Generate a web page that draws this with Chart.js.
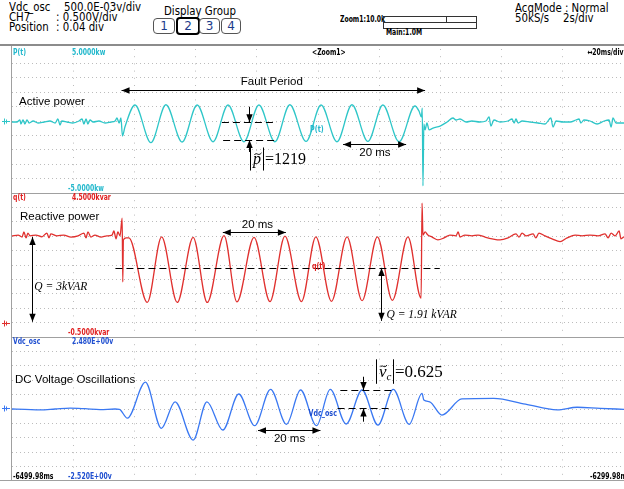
<!DOCTYPE html>
<html>
<head>
<meta charset="utf-8">
<script src="https://cdn.jsdelivr.net/npm/chart.js@4.4.1/dist/chart.umd.min.js"></script>
<style>
body{margin:0;width:624px;height:489px;overflow:hidden;background:#fff;position:relative;font-family:'Liberation Sans Narrow','DejaVu Sans',Arial,sans-serif}
.t{position:absolute;font-size:12px;line-height:12px;white-space:nowrap;color:#000;transform:scaleX(0.85);transform-origin:left center}
.s{position:absolute;font-size:8.5px;line-height:9px;white-space:nowrap;font-weight:bold;transform:scaleX(0.72);transform-origin:left center}
.btn{position:absolute;top:18px;height:14px;border:1px solid #555;border-radius:4px;font-size:12px;line-height:14px;text-align:center;color:#1c3c8c}
.hl{position:absolute;background:#a0a0a0}
canvas{position:absolute;left:0}
</style>
</head>
<body>
<!-- header -->
<div class="t" style="left:9px;top:1px">Vdc_osc</div>
<div class="t" style="left:64px;top:1px">500.0E-03v/div</div>
<div class="t" style="left:9px;top:11px">CH7</div>
<div class="t" style="left:56px;top:11px">: 0.500V/div</div>
<div class="t" style="left:9px;top:21px">Position</div>
<div class="t" style="left:56px;top:21px">: 0.04 div</div>
<div class="t" style="left:164px;top:5px">Display Group</div>
<div class="btn" style="left:153px;width:20px">1</div>
<div class="btn" style="left:176px;width:20px;border:2px solid #000;top:17px">2</div>
<div class="btn" style="left:199px;width:19px">3</div>
<div class="btn" style="left:221px;width:18px">4</div>
<div class="s" style="left:340px;top:15px;color:#000">Zoom1:10.0k</div>
<div style="position:absolute;left:383px;top:16px;width:92px;height:11px;border:1px solid #333"></div>
<div style="position:absolute;left:384px;top:22px;width:92px;height:1px;background:#333"></div>
<div style="position:absolute;left:446px;top:17px;width:1px;height:5px;background:#333"></div>
<div class="s" style="left:386px;top:28px;color:#000">Main:1.0M</div>
<div class="t" style="left:515px;top:2px">AcqMode : Normal</div>
<div class="t" style="left:515px;top:12px">50kS/s</div>
<div class="t" style="left:563px;top:12px">2s/div</div>

<canvas id="pChart" width="624" height="144" style="top:49px"></canvas>
<canvas id="qChart" width="624" height="144" style="top:193px"></canvas>
<canvas id="vChart" width="624" height="144" style="top:337px"></canvas>

<div class="hl" style="left:0;top:44px;width:624px;height:2px;background:#8c8c8c"></div>
<div class="hl" style="left:11px;top:46px;width:1px;height:435px"></div>
<div class="hl" style="left:12px;top:193px;width:612px;height:1px"></div>
<div class="hl" style="left:12px;top:337px;width:612px;height:1px"></div>
<div class="hl" style="left:0;top:480px;width:624px;height:1px"></div>

<!-- channel labels -->
<div class="s" style="left:13px;top:48px;color:#22b8cc">P(t)</div>
<div class="s" style="left:72px;top:48px;color:#22b8cc">5.0000kw</div>
<div class="s" style="left:312px;top:48px;color:#000">&lt;Zoom1&gt;</div>
<div class="s" style="right:0;top:48px;color:#000;transform-origin:right center">&#8596;20ms/div</div>
<div class="s" style="left:68px;top:184px;color:#22b8cc">-5.0000kw</div>
<div class="s" style="left:13px;top:193px;color:#e02020">q(t)</div>
<div class="s" style="left:72px;top:193px;color:#e02020">4.5000kvar</div>
<div class="s" style="left:68px;top:328px;color:#e02020">-0.5000kvar</div>
<div class="s" style="left:13px;top:337px;color:#1f4fd0">Vdc_osc</div>
<div class="s" style="left:72px;top:337px;color:#1f4fd0">2.480E+00v</div>
<div class="s" style="left:13px;top:472px;color:#000">-6499.98ms</div>
<div class="s" style="left:68px;top:472px;color:#1f4fd0">-2.520E+00v</div>
<div class="s" style="left:590px;top:472px;color:#000">-6299.98ms</div>

<script>
// time in ms from the left edge of the zoom window (-6499.98 ms)
const tMin = 0, tMax = 200;

// active power P(t), kW
const pTime = [0, 1.6, 2.6, 2.9, 3.6, 4.2, 4.9, 5.6, 6.9, 8.5, 10.5, 12.4, 14.1, 15.0, 15.7, 16.3, 18.0, 19.9, 21.9, 22.9,
  23.5, 24.2, 24.8, 25.5, 26.5, 28.4, 30.4, 32.4, 33.7, 34.3, 35.0, 35.6, 36.1, 36.9,
  40.2, 45.4, 50.3, 55.6, 60.5, 65.7, 70.6, 75.8, 80.7, 85.9, 90.8, 96.1, 101.0, 106.2, 111.1, 116.3, 121.2, 126.5, 131.7,
  133.0, 133.8, 134.07, 134.3, 134.6, 135.0, 135.6, 136.3, 137.6, 139.9, 142.2, 144.1, 145.1, 146.4, 148.4, 150.3,
  152.9, 154.9, 155.9, 156.5, 157.5, 159.5, 162.1, 163.4, 164.1, 164.7, 165.4, 166.7, 169.3, 171.9, 174.2, 176.1,
  176.8, 177.8, 180.1, 182.4, 184.3, 185.3, 185.9, 186.9, 188.9, 191.2, 193.5, 195.1, 195.8, 196.4, 197.4, 198.7, 200];
const pValue = [-0.07, -0.07, 0.07, -0.21, 0.07, -0.21, 0.07, -0.14, 0, -0.14, -0.07, 0, -0.14, 0.14, -0.28, 0, -0.07, -0.14, 0, 0.14,
  -0.21, 0.14, -0.21, 0.07, -0.07, 0, -0.14, -0.07, 0, 0.21, -0.14, 0.21, -1.04, -0.42,
  1.11, -1.50, 1.13, -1.46, 1.11, -1.44, 1.11, -1.44, 1.11, -1.44, 1.13, -1.42, 1.11, -1.44, 1.13, -1.42, 1.11, -1.44, 1.04,
  0.69, 0.28, 0.90, -4.51, -0.21, -0.62, -0.14, -0.62, -0.49, -0.35, -0.07, 0.21, 0.07, 0.14, -0.07, 0,
  -0.07, 0, 0.28, -0.35, 0.07, -0.07, 0, 0.14, -0.14, 0.14, -0.14, 0, -0.07, -0.14, -0.21, 0.21,
  -0.42, 0, -0.07, -0.07, 0.07, 0.14, -0.14, 0.07, 0, -0.21, 0, 0.07, -0.42, 0.21, -0.14, -0.14, -0.14];

// reactive power q(t), kvar
const qTime = [0, 2.0, 3.3, 3.9, 4.6, 5.2, 5.9, 7.8, 9.8, 11.4, 12.1, 12.7, 14.7, 16.9, 19.3, 21.6, 23.5, 24.2, 24.8, 25.8,
  27.1, 29.1, 31.0, 32.7, 33.3, 34.0, 34.6, 35.3, 36.0, 36.2, 36.4, 37.3, 38.2,
  44.2, 48.9, 54.0, 59.2, 63.8, 69.3, 73.5, 79.1, 84.3, 89.2, 94.6, 99.3, 104.4, 109.5, 114.4, 119.4, 124.3, 129.4,
  133.7, 134.0, 134.3, 135.0, 135.9, 137.3, 139.2, 141.2, 143.1, 145.1, 145.8, 146.4, 148.0, 150.3, 152.3, 154.6,
  156.9, 159.5, 162.1, 164.7, 165.7, 166.7, 168.0, 170.3, 171.2, 172.2, 174.2, 176.5, 179.1, 181.4, 184.0, 186.3,
  188.9, 191.5, 193.8, 194.8, 195.8, 197.1, 198.4, 199.0, 200];
const qValue = [3.01, 3.04, 2.97, 3.15, 2.94, 3.11, 3.01, 3.04, 2.98, 3.11, 2.94, 3.08, 3.01, 3.04, 2.97, 3.01, 3.11, 2.94, 3.15, 2.97,
  3.04, 2.97, 3.01, 3.04, 3.18, 2.91, 3.15, 3.01, 3.63, 1.41, 2.87, 2.94, 2.94,
  0.70, 2.98, 0.70, 2.96, 0.70, 3.02, 0.72, 2.96, 0.73, 3.00, 0.73, 2.98, 0.74, 2.98, 0.76, 2.98, 0.77, 2.98,
  0.85, 4.15, 3.04, 3.15, 3.04, 2.97, 2.87, 2.94, 3.04, 3.01, 3.15, 2.97, 3.04, 3.01, 3.04, 2.97,
  2.91, 2.87, 2.94, 3.08, 2.97, 3.11, 3.01, 3.08, 2.94, 3.11, 3.01, 2.91, 2.81, 2.94, 3.04, 3.01,
  3.04, 3.01, 3.08, 2.94, 3.11, 3.01, 3.18, 2.91, 2.98];

// DC voltage oscillation Vdc_osc, V
const vTime = [0, 4.2, 9.2, 14.1, 19.0, 23.9, 28.8, 33.7, 35.1, 37.7, 43.6, 48.8, 53.3, 59.2, 63.7, 68.9, 74.1, 79.3, 84.5,
  89.7, 94.3, 99.5, 104.0, 109.2, 114.4, 119.6, 124.6, 129.8, 134.0, 134.6, 136.5, 140.5, 147.0, 157.4, 167.8,
  178.2, 184.7, 192.2, 200];
const vValue = [-0.02, -0.03, -0.05, -0.02, 0.01, -0.01, -0.04, -0.02, -0.03, -0.34, 0.91, -0.69, 0.23, -1.10, 0.23, -0.75, 0.50, -0.60, 0.66,
  -0.55, 0.64, -0.60, 0.66, -0.54, 0.64, -0.58, 0.66, -0.55, 0.52, 0.29, 0.23, -0.23, 0.33, 0.35, 0.15,
  -0.05, 0.04, 0.00, -0.03];

const sans = '11.5px "Liberation Sans", Arial, sans-serif';
const serifI = 'italic 11.5px "Liberation Serif", "Times New Roman", serif';

const pNotes = [
  {type: 'text', x: 2.3, y: 1.34, text: 'Active power', align: 'left'},
  {type: 'arrow', x1: 35.8, y1: 2.15, x2: 135, y2: 2.15, both: true},
  {type: 'text', x: 84.9, y: 2.73, text: 'Fault Period', align: 'center'},
  {type: 'dash', x1: 68.6, x2: 86.6, y: -0.09},
  {type: 'dash', x1: 69.0, x2: 86.9, y: -1.32},
  {type: 'arrow', x1: 77.5, y1: 0.99, x2: 77.5, y2: -0.09},
  {type: 'arrow', x1: 77.5, y1: -2.15, x2: 77.5, y2: -1.32},
  {type: 'abs', x: 77.9, y: -2.64, sym: 'p', sub: '', rest: '=1219', size: 16},
  {type: 'arrow', x1: 108.2, y1: -1.62, x2: 128.8, y2: -1.62, both: true},
  {type: 'text', x: 118.6, y: -2.24, text: '20 ms', align: 'center'},
  {type: 'tag', x: 97.4, y: -0.63, text: 'P(t)', color: '#22b8cc'}
];
const qNotes = [
  {type: 'text', x: 2.6, y: 3.68, text: 'Reactive power', align: 'left'},
  {type: 'arrow', x1: 6.5, y1: 2.97, x2: 6.5, y2: 0.03, both: true},
  {type: 'text', x: 7.3, y: 1.25, text: 'Q = 3kVAR', align: 'left', font: serifI},
  {type: 'dash', x1: 33.8, x2: 139.8, y: 1.896},
  {type: 'arrow', x1: 120.6, y1: 1.9, x2: 120.6, y2: 0.06, both: true},
  {type: 'text', x: 122.4, y: 0.26, text: 'Q = 1.91 kVAR', align: 'left', font: serifI},
  {type: 'arrow', x1: 68.9, y1: 3.135, x2: 89.5, y2: 3.135, both: true},
  {type: 'text', x: 80.2, y: 3.39, text: '20 ms', align: 'center'},
  {type: 'tag', x: 98.0, y: 1.94, text: 'q(t)', color: '#e02020'}
];
const vNotes = [
  {type: 'text', x: 1.0, y: 1.01, text: 'DC Voltage Oscillations', align: 'left'},
  {type: 'dash', x1: 107.3, x2: 124.8, y: 0.64},
  {type: 'dash', x1: 106.4, x2: 124.2, y: 0.0},
  {type: 'arrow', x1: 114.7, y1: 1.10, x2: 114.7, y2: 0.64},
  {type: 'arrow', x1: 114.7, y1: -0.46, x2: 114.7, y2: 0.0},
  {type: 'abs', x: 119.0, y: 1.28, sym: 'v', sub: 'c', rest: '=0.625', size: 17},
  {type: 'arrow', x1: 80.4, y1: -0.75, x2: 100.8, y2: -0.75, both: true},
  {type: 'text', x: 90.7, y: -1.04, text: '20 ms', align: 'center'},
  {type: 'tag', x: 96.9, y: -0.19, text: 'Vdc_osc', color: '#1f4fd0'}
];

const snap = v => Math.round(v) + 0.5;

function head(ctx, x1, y1, x2, y2) {
  const a = Math.atan2(y2 - y1, x2 - x1);
  ctx.beginPath();
  ctx.moveTo(x2, y2);
  ctx.lineTo(x2 - 8 * Math.cos(a) + 3.2 * Math.sin(a), y2 - 8 * Math.sin(a) - 3.2 * Math.cos(a));
  ctx.lineTo(x2 - 8 * Math.cos(a) - 3.2 * Math.sin(a), y2 - 8 * Math.sin(a) + 3.2 * Math.cos(a));
  ctx.closePath();
  ctx.fill();
}

function line(ctx, x1, y1, x2, y2) {
  ctx.beginPath();
  ctx.moveTo(x1, y1);
  ctx.lineTo(x2, y2);
  ctx.stroke();
}

function notesPlugin(notes, markColor) {
  return {
    id: 'notes',
    afterDatasetsDraw(chart) {
      const {ctx} = chart;
      const sx = chart.scales.x, sy = chart.scales.y;
      const px = v => sx.getPixelForValue(v), py = v => sy.getPixelForValue(v);
      ctx.save();
      ctx.fillStyle = '#000';
      ctx.strokeStyle = '#000';
      ctx.lineWidth = 1;
      notes.forEach(n => {
        if (n.type === 'text') {
          ctx.font = n.font || sans;
          ctx.textAlign = n.align;
          ctx.textBaseline = 'middle';
          ctx.fillText(n.text, px(n.x), py(n.y));
        } else if (n.type === 'tag') {
          // small condensed scope label
          ctx.save();
          ctx.font = 'bold 8.5px "Liberation Sans Narrow", "DejaVu Sans", Arial, sans-serif';
          ctx.fillStyle = n.color;
          ctx.textAlign = 'left';
          ctx.textBaseline = 'middle';
          ctx.translate(px(n.x), py(n.y));
          ctx.scale(0.75, 1);
          ctx.fillText(n.text, 0, 0);
          ctx.restore();
        } else if (n.type === 'dash') {
          ctx.setLineDash([7, 4]);
          const y = snap(py(n.y));
          line(ctx, px(n.x1), y, px(n.x2), y);
          ctx.setLineDash([]);
        } else if (n.type === 'arrow') {
          let x1 = px(n.x1), y1 = py(n.y1), x2 = px(n.x2), y2 = py(n.y2);
          if (x1 === x2) { x1 = x2 = snap(x1); } else { y1 = y2 = snap(y1); }
          line(ctx, x1, y1, x2, y2);
          head(ctx, x1, y1, x2, y2);
          if (n.both) head(ctx, x2, y2, x1, y1);
        } else if (n.type === 'abs') {
          const ax = snap(px(n.x)), ay = py(n.y), s = n.size;
          const h = s * 0.72, base = ay + s * 0.3;
          line(ctx, ax, ay - h, ax, ay + h);
          ctx.textAlign = 'left';
          ctx.textBaseline = 'alphabetic';
          ctx.font = `italic ${s}px "Liberation Serif", serif`;
          let cx = ax + 2.5;
          ctx.fillText(n.sym, cx, base);
          const w = ctx.measureText(n.sym).width;
          // tilde over the symbol
          const tx = cx + 1.5, ty = base - s * 0.62, tw = w - 1;
          ctx.beginPath();
          ctx.moveTo(tx, ty + 1);
          ctx.bezierCurveTo(tx + tw * 0.3, ty - 2.5, tx + tw * 0.5, ty + 3, tx + tw, ty - 1);
          ctx.stroke();
          cx += w;
          if (n.sub) {
            ctx.font = `italic ${s * 0.65}px "Liberation Serif", serif`;
            ctx.fillText(n.sub, cx, base + s * 0.22);
            cx += ctx.measureText(n.sub).width;
          }
          cx = snap(cx + 2);
          line(ctx, cx, ay - h, cx, ay + h);
          ctx.font = `${s}px "Liberation Serif", serif`;
          ctx.fillText(n.rest, cx + 1.5, base);
        }
      });
      // channel ground marker at the left edge
      const gy = snap(py(0));
      ctx.strokeStyle = markColor;
      line(ctx, 2, gy, 10, gy);
      line(ctx, 4.5, gy - 3, 4.5, gy + 3);
      line(ctx, 6.5, gy - 2, 6.5, gy + 2);
      ctx.restore();
    }
  };
}

const gridColor = c => (c.index === 0 || c.index === 10) ? 'rgba(0,0,0,0)' : '#bcbcbc';

function makePanel(id, times, values, color, yMin, yMax, notes) {
  const points = times.map((t, i) => ({x: t, y: values[i]}));
  return new Chart(document.getElementById(id), {
    type: 'line',
    data: {
      datasets: [{
        data: points,
        borderColor: color,
        borderWidth: 1.3,
        pointRadius: 0,
        cubicInterpolationMode: 'monotone',
        fill: false
      }]
    },
    options: {
      responsive: false,
      animation: false,
      devicePixelRatio: 1,
      layout: {padding: {left: 12, right: 0, top: 0, bottom: 0}},
      plugins: {legend: {display: false}, tooltip: {enabled: false}},
      scales: {
        x: {
          type: 'linear', min: tMin, max: tMax,
          ticks: {display: false, count: 11},
          grid: {drawTicks: false, color: gridColor},
          border: {display: false, dash: [1, 6.2]},
          afterFit: s => { s.height = 0; }
        },
        y: {
          type: 'linear', min: yMin, max: yMax,
          ticks: {display: false, count: 11},
          grid: {drawTicks: false, color: gridColor},
          border: {display: false, dash: [1, 3]},
          afterFit: s => { s.width = 0; }
        }
      }
    },
    plugins: [notesPlugin(notes, color)]
  });
}

makePanel('pChart', pTime, pValue, '#2ec6c8', -5, 5, pNotes);
makePanel('qChart', qTime, qValue, '#e0302e', -0.5, 4.5, qNotes);
makePanel('vChart', vTime, vValue, '#3a78f2', -2.52, 2.48, vNotes);
</script>
</body>
</html>
